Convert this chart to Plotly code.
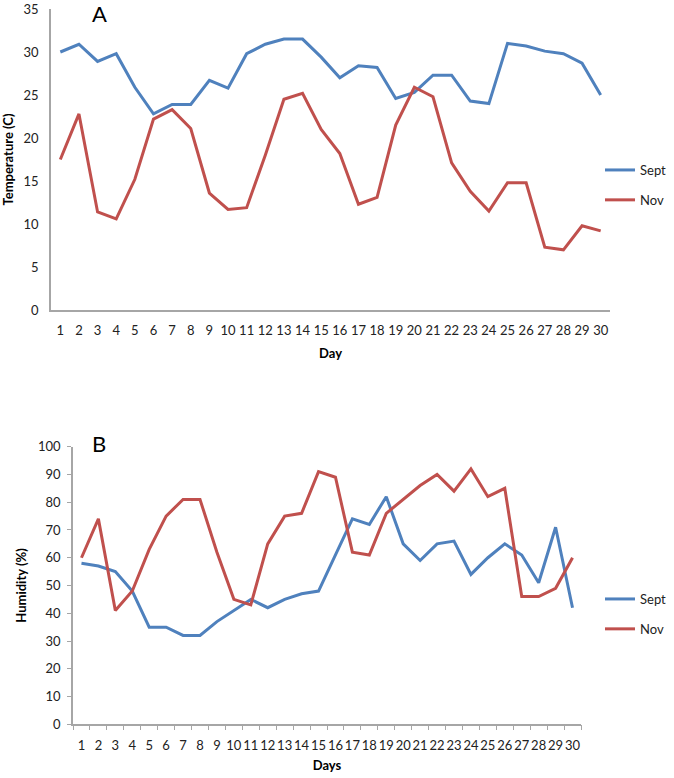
import plotly.graph_objects as go

days = list(range(1, 31))
day_labels = [str(d) for d in days]
day_bounds = [d - 0.5 for d in days] + [30.5]

temp_sept = [30.0, 30.9, 28.9, 29.8, 25.9, 22.8, 23.9, 23.9, 26.7, 25.8,
             29.8, 30.9, 31.5, 31.5, 29.4, 27.0, 28.4, 28.2, 24.6, 25.3,
             27.3, 27.3, 24.3, 24.0, 31.0, 30.7, 30.1, 29.8, 28.7, 25.0]
temp_nov = [17.5, 22.8, 11.4, 10.6, 15.2, 22.2, 23.3, 21.1, 13.6, 11.7,
            11.9, 18.0, 24.5, 25.2, 21.0, 18.2, 12.3, 13.1, 21.5, 25.9,
            24.8, 17.1, 13.8, 11.5, 14.8, 14.8, 7.3, 7.0, 9.8, 9.2]

hum_sept = [58, 57, 55, 48, 35, 35, 32, 32, 37, 41,
            45, 42, 45, 47, 48, 61, 74, 72, 82, 65,
            59, 65, 66, 54, 60, 65, 61, 51, 71, 42]
hum_nov = [60, 74, 41, 48, 63, 75, 81, 81, 62, 45,
           43, 65, 75, 76, 91, 89, 62, 61, 76, 81,
           86, 90, 84, 92, 82, 85, 46, 46, 49, 60]

BLUE = "#4F81BD"
RED = "#C0504D"
AXIS = "#A6A6A6"
FONT = "Lato, Open Sans, sans-serif"
W, H = 674, 778

# plot-area (margin) box in pixels
ML, MR, MT, MB = 51, 64, 9, 53
PW = W - ML - MR
PH = H - MT - MB


def clamp(v):
    return max(0.0, min(1.0, v))


def fx(p):
    return (p - ML) / PW


def fy(p):
    return 1 - (p - MT) / PH


fig = go.Figure()
fig.add_trace(go.Scatter(x=days, y=temp_sept, name="Sept", mode="lines", legendgroup="a1",
                         line=dict(color=BLUE, width=3), xaxis="x", yaxis="y", legend="legend"))
fig.add_trace(go.Scatter(x=days, y=temp_nov, name="Nov", mode="lines", legendgroup="a2",
                         line=dict(color=RED, width=3), xaxis="x", yaxis="y", legend="legend"))
fig.add_trace(go.Scatter(x=days, y=hum_sept, name="Sept", mode="lines", legendgroup="b1",
                         line=dict(color=BLUE, width=3), xaxis="x2", yaxis="y2", legend="legend2"))
fig.add_trace(go.Scatter(x=days, y=hum_nov, name="Nov", mode="lines", legendgroup="b2",
                         line=dict(color=RED, width=3), xaxis="x2", yaxis="y2", legend="legend2"))
# invisible carrier trace so the between-category tick axis of panel B is drawn
fig.add_trace(go.Scatter(x=days, y=hum_nov, mode="lines", line=dict(width=0),
                         opacity=0, showlegend=False, hoverinfo="skip",
                         xaxis="x3", yaxis="y2"))

tickfont = dict(family=FONT, size=13, color="#222222")
titlefont = dict(family=FONT, size=13, color="#000000", weight="bold")
legfont = dict(family=FONT, size=13, color="#222222")

xdomA = [clamp(fx(51)), clamp(fx(610))]
xdomB = [clamp(fx(73)), clamp(fx(581))]

fig.update_layout(
    width=W, height=H,
    margin=dict(l=ML, r=MR, t=MT, b=MB, autoexpand=False),
    paper_bgcolor="white", plot_bgcolor="white",
    font=dict(family=FONT, size=13, color="#222222"),
    xaxis=dict(domain=xdomA, anchor="y", automargin=False,
               range=[0.5, 30.5], tickmode="array", tickvals=days, ticktext=day_labels,
               tickangle=0, showline=True, linecolor=AXIS, linewidth=1.5, showgrid=False,
               zeroline=False, ticks="", tickfont=tickfont, ticklabelstandoff=8,
               title=dict(text="Day", font=titlefont, standoff=12)),
    yaxis=dict(domain=[clamp(fy(310)), clamp(fy(9))], anchor="x", automargin=False,
               range=[0, 35], dtick=5, showline=True, linecolor=AXIS, linewidth=1.5,
               showgrid=False, zeroline=False, ticks="", tickfont=tickfont,
               ticklabelstandoff=8,
               title=dict(text="Temperature (C)", font=titlefont, standoff=8)),
    xaxis2=dict(domain=xdomB, anchor="y2", automargin=False,
                range=[0.5, 30.5], tickmode="array", tickvals=days, ticktext=day_labels,
                tickangle=0, showline=True, linecolor=AXIS, linewidth=1.5, showgrid=False,
                zeroline=False, ticks="", tickfont=tickfont, ticklabelstandoff=8,
                title=dict(text="Days", font=titlefont, standoff=9)),
    xaxis3=dict(domain=xdomB, anchor="y2", overlaying="x2", automargin=False,
                range=[0.5, 30.5], tickmode="array", tickvals=day_bounds,
                ticktext=[""] * len(day_bounds), ticks="outside", ticklen=5,
                tickcolor=AXIS, tickwidth=1, showline=False, showgrid=False,
                zeroline=False, side="bottom"),
    yaxis2=dict(domain=[clamp(fy(724.3)), clamp(fy(446.7))], anchor="x2", automargin=False,
                range=[0, 100], dtick=10, showline=True, linecolor=AXIS, linewidth=1.5,
                showgrid=False, zeroline=False, ticks="outside", ticklen=4, tickcolor=AXIS,
                tickfont=tickfont, ticklabelstandoff=4,
                title=dict(text="Humidity (%)", font=titlefont, standoff=8)),
    legend=dict(x=fx(600), y=fy(155), xanchor="left", yanchor="top",
                font=legfont, bgcolor="rgba(0,0,0,0)", tracegroupgap=10, itemwidth=30),
    legend2=dict(x=fx(600), y=fy(584), xanchor="left", yanchor="top",
                 font=legfont, bgcolor="rgba(0,0,0,0)", tracegroupgap=10, itemwidth=30),
    showlegend=True,
    annotations=[
        dict(text="A", x=fx(99), y=fy(14), xref="paper", yref="paper",
             xanchor="center", yanchor="middle",
             showarrow=False, font=dict(family=FONT, size=22, color="#000000")),
        dict(text="B", x=fx(99), y=fy(443), xref="paper", yref="paper",
             xanchor="center", yanchor="middle",
             showarrow=False, font=dict(family=FONT, size=22, color="#000000")),
    ],
)

fig.write_html("out.html", config={"displayModeBar": False},
               post_script="document.body.style.margin='0';")
